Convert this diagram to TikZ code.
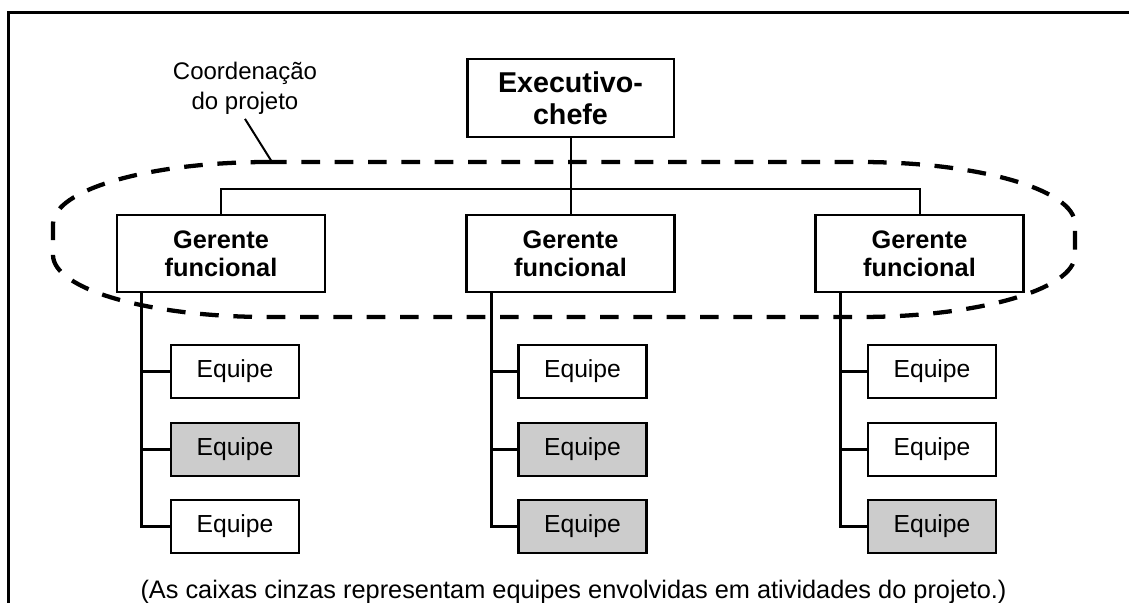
\documentclass[tikz,border=0pt]{standalone}
\usepackage{fontspec}
\setmainfont{Liberation Sans}

\begin{document}
\begin{tikzpicture}[
    x=0.75pt, y=-0.75pt,
    box/.style={rectangle, draw=black, line width=2pt, text centered, align=center},
    chief/.style={box, minimum width=155pt, minimum height=58.5pt, font=\fontsize{21.5}{24}\selectfont\bfseries},
    manager/.style={box, minimum width=156pt, minimum height=57.75pt, font=\fontsize{19}{21}\selectfont\bfseries},
    team/.style={box, fill=white, minimum width=96pt, minimum height=39.75pt, font=\fontsize{18.5}{21}\selectfont},
    gteam/.style={team, fill=black!20},
    link/.style={line width=1.5pt},
    trunk/.style={line width=2pt},
    frame/.style={line width=2.25pt},
    ring/.style={line width=3.2pt, dash pattern=on 14pt off 11pt}
]
    \useasboundingbox (0,0) rectangle (1129,603);

    % 1. Outer frame (cut off at right and bottom)
    \draw[frame] (8,603) -- (8,12) -- (1129,12);

    % 2. Chief executive
    \node[chief] (chief) at (570.5,98) {Executivo-\\chefe};

    % 3. Functional managers
    \node[manager] (g1) at (221,253.5) {Gerente\\funcional};
    \node[manager] (g2) at (570.5,253.5) {Gerente\\funcional};
    \node[manager] (g3) at (919.5,253.5) {Gerente\\funcional};

    % Lines: chief to managers
    \coordinate (bus) at (570.5,189);
    \draw[link] (chief.south) -- (g2.north);
    \draw[link] (g1.north) |- (bus) -| (g3.north);

    % 4. Teams (gray = involved in the project)
    \node[team]  (e11) at (235,371.5) {Equipe};
    \node[gteam] (e12) at (235,449.5) {Equipe};
    \node[team]  (e13) at (235,526.5) {Equipe};

    \node[team]  (e21) at (582.5,371.5) {Equipe};
    \node[gteam] (e22) at (582.5,449.5) {Equipe};
    \node[gteam] (e23) at (582.5,526.5) {Equipe};

    \node[team]  (e31) at (932,371.5) {Equipe};
    \node[team]  (e32) at (932,449.5) {Equipe};
    \node[gteam] (e33) at (932,526.5) {Equipe};

    % Lines: managers to teams
    \coordinate (t1) at ([xshift=19.5pt]g1.south west);
    \coordinate (t2) at ([xshift=19.5pt]g2.south west);
    \coordinate (t3) at ([xshift=19.5pt]g3.south west);
    \draw[trunk] (t1) |- (e13.west);
    \draw[trunk] (t1 |- e11.west) -- (e11.west);
    \draw[trunk] (t1 |- e12.west) -- (e12.west);
    \draw[trunk] (t2) |- (e23.west);
    \draw[trunk] (t2 |- e21.west) -- (e21.west);
    \draw[trunk] (t2 |- e22.west) -- (e22.west);
    \draw[trunk] (t3) |- (e33.west);
    \draw[trunk] (t3 |- e31.west) -- (e31.west);
    \draw[trunk] (t3 |- e32.west) -- (e32.west);

    % 5. Project coordination ring
    \draw[ring] (268,162) -- (860,162)
        arc[start angle=90, end angle=0, x radius=161.25pt, y radius=46.5pt] -- (1075,255)
        arc[start angle=0, end angle=-90, x radius=161.25pt, y radius=46.5pt] -- (268,317)
        arc[start angle=270, end angle=180, x radius=161.25pt, y radius=46.5pt] -- (53,224)
        arc[start angle=180, end angle=90, x radius=161.25pt, y radius=46.5pt] -- cycle;
    \coordinate (ringtop) at (272,162);
    \node[font=\fontsize{18}{22.5}\selectfont, align=center] (coordlbl) at (245,88) {Coordenação\\do projeto};
    \draw[link] (coordlbl.south) -- (ringtop);

    % 6. Caption
    \node[font=\fontsize{19}{22}\selectfont, anchor=base] (caption) at (573.5,598)
        {(As caixas cinzas representam equipes envolvidas em atividades do projeto.)};

\end{tikzpicture}
\end{document}
